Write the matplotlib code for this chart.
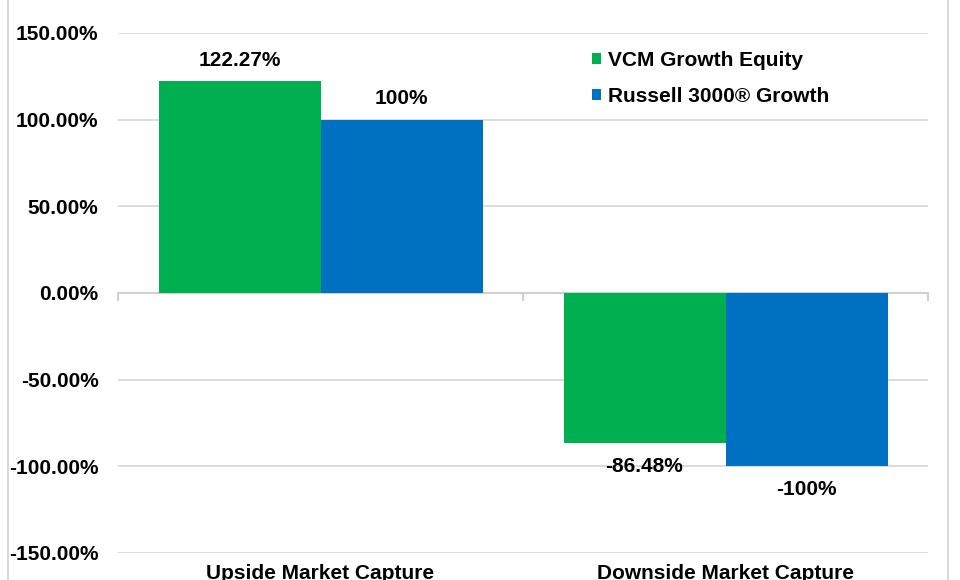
import matplotlib
matplotlib.use("Agg")
import matplotlib.pyplot as plt
from matplotlib.lines import Line2D
from matplotlib.patches import Patch
import matplotlib.transforms as mtransforms
import numpy as np

plt.rcParams['font.family'] = ['Liberation Sans', 'DejaVu Sans']
plt.rcParams['font.weight'] = 'bold'

categories = ["Upside Market Capture", "Downside Market Capture"]
series_names = ["VCM Growth Equity", "Russell 3000\u00ae Growth"]
vcm_values = [122.27, -86.48]
russell_values = [100.0, -100.0]
vcm_labels = ["122.27%", "-86.48%"]
russell_labels = ["100%", "-100%"]
y_ticks = [-150, -100, -50, 0, 50, 100, 150]
colors = ["#00B050", "#0070C0"]

FS = 15
W, H = 960, 580
fig = plt.figure(figsize=(W / 100, H / 100), dpi=100)
ax = fig.add_axes([118 / W, 1 - 553 / H, (928 - 118) / W, (553 - 33) / H])

x = np.arange(len(categories))
bw = 0.4
b1 = ax.bar(x - bw / 2, vcm_values, bw, color=colors[0], label=series_names[0], zorder=3)
b2 = ax.bar(x + bw / 2, russell_values, bw, color=colors[1], label=series_names[1], zorder=3)

for bars, labels in ((b1, vcm_labels), (b2, russell_labels)):
    for rect, lab in zip(bars, labels):
        h = rect.get_height()
        off = 15 if h >= 0 else -17
        ax.annotate(lab, (rect.get_x() + rect.get_width() / 2, h),
                    xytext=(0, off), textcoords="offset points",
                    ha="center", va="center", fontsize=FS, fontweight="bold",
                    color="#000000", zorder=5)

ax.set_xlim(-0.5, len(categories) - 0.5)
ax.set_ylim(-150, 150)
ax.set_yticks(y_ticks)
ax.set_yticklabels([f"{v:.2f}%" for v in y_ticks], fontsize=FS, fontweight="bold")
ax.tick_params(axis="y", length=0, pad=14)
ax.set_xticks([])
for s in ax.spines.values():
    s.set_visible(False)
ax.grid(axis="y", color="#d9d9d9", linewidth=1.3, zorder=0)
ax.axhline(0, color="#d0d0d0", linewidth=1.5, zorder=2)
# category boundary tick marks on the zero line
for bx in np.arange(-0.5, len(categories), 1.0):
    ax.plot([bx, bx], [0, -4], color="#d0d0d0", linewidth=1.5, zorder=2, clip_on=False)

trans = mtransforms.blended_transform_factory(ax.transData, ax.transAxes)
for xi, cat in zip(x, categories):
    ax.text(xi, -0.022, cat, transform=trans, ha="center", va="top",
            fontsize=FS, fontweight="bold")

handles = [Patch(facecolor=c, edgecolor="none") for c in colors]
leg = ax.legend(handles, series_names, loc="upper left",
                bbox_to_anchor=((592 - 118) / 810, (553 - 51) / 520),
                frameon=False, handlelength=0.42, handleheight=0.42,
                handletextpad=0.33, labelspacing=0.83, borderpad=0, borderaxespad=0,
                prop={"weight": "bold", "size": FS})

# chart border lines (left and right)
fig.add_artist(Line2D([8 / W, 8 / W], [0, 1], color="#d9d9d9", linewidth=1.5))
fig.add_artist(Line2D([947.5 / W, 947.5 / W], [0, 1], color="#d9d9d9", linewidth=1.5))

fig.savefig("out.png", dpi=100, facecolor="white")
